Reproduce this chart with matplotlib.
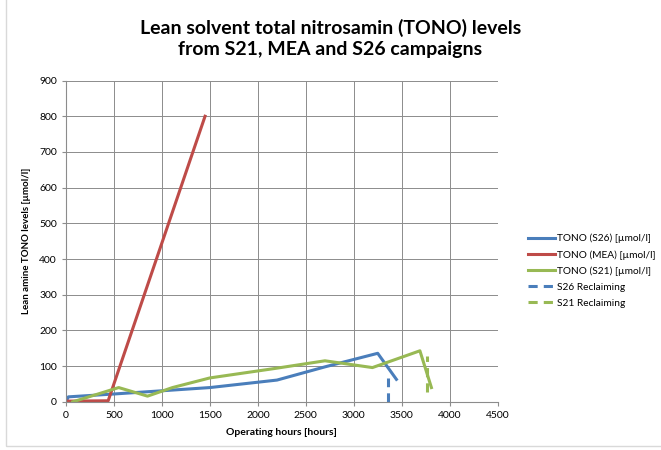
import matplotlib
matplotlib.use('Agg')
from matplotlib import pyplot as plt
from matplotlib.patches import Rectangle

plt.rcParams['font.family'] = ['Lato', 'DejaVu Sans']

# S26 campaign
s26_hours = [0, 25, 500, 1000, 1500, 2200, 2700, 3250, 3445]
s26_tono = [0, 14, 22, 31, 40, 61, 98, 136, 63]
# MEA campaign
mea_hours = [0, 440, 1450]
mea_tono = [2, 3, 800]
# S21 campaign
s21_hours = [70, 550, 850, 1110, 1500, 2190, 2700, 3195, 3690, 3810]
s21_tono = [0, 40, 16, 40, 67, 94, 115, 96, 143, 40]
# reclaiming markers
s26_recl_hours = [3360, 3360]
s26_recl_tono = [0, 68]
s21_recl_hours = [3767, 3767]
s21_recl_tono = [27, 128]

blue = '#4a7ebb'
red = '#be4b48'
green = '#98b954'

fig = plt.figure(figsize=(6.61, 4.5), dpi=100)
fig.patches.append(Rectangle((0.009, 0.008), 1.2, 1.2, transform=fig.transFigure,
                             fill=False, edgecolor='#d9d9d9', linewidth=1))
ax = fig.add_axes([0.0998, 0.107, 0.653, 0.714])

ax.plot(s26_hours, s26_tono, color=blue, lw=2.2, label='TONO (S26) [µmol/l]')
ax.plot(mea_hours, mea_tono, color=red, lw=2.2, label='TONO (MEA) [µmol/l]')
ax.plot(s21_hours, s21_tono, color=green, lw=2.2, label='TONO (S21) [µmol/l]')
ax.plot(s26_recl_hours, s26_recl_tono, color=blue, lw=2.2, ls=(0, (3, 2)), label='S26 Reclaiming')
ax.plot(s21_recl_hours, s21_recl_tono, color=green, lw=2.2, ls=(0, (3, 2)), label='S21 Reclaiming')

ax.set_xlim(0, 4500)
ax.set_ylim(0, 900)
ax.set_xticks(range(0, 4501, 500))
ax.set_yticks(range(0, 901, 100))
ax.grid(True, color='#8c8c8c', linewidth=0.7)
ax.set_axisbelow(True)
for s in ['top', 'right']:
    ax.spines[s].set_visible(False)
for s in ['left', 'bottom']:
    ax.spines[s].set_color('#8c8c8c')
ax.tick_params(labelsize=7.5, length=3, color='#8c8c8c')

ax.set_xlabel('Operating hours [hours]', fontsize=7.5, fontweight='bold', labelpad=6)
ax.set_ylabel('Lean amine TONO levels [µmol/l]', fontsize=7, fontweight='bold', labelpad=6)

fig.text(0.5, 0.958, 'Lean solvent total nitrosamin (TONO) levels\nfrom S21, MEA and S26 campaigns',
         ha='center', va='top', fontsize=14, fontweight='bold', linespacing=1.3)

ax.legend(loc='center left', bbox_to_anchor=(1.05, 0.408), frameon=False, fontsize=7.3,
          handlelength=2.6, handletextpad=0.2, labelspacing=0.68)

plt.savefig('out.png')
plt.close()
